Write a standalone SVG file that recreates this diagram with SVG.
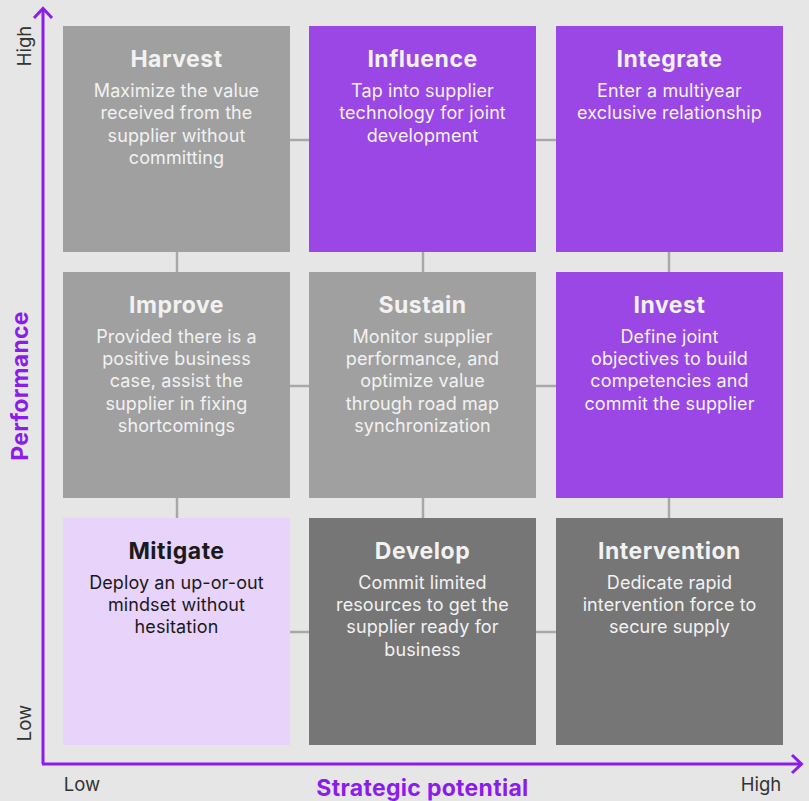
<svg xmlns="http://www.w3.org/2000/svg" width="809" height="801" viewBox="0 0 809 801">
  <style>
    .bg { fill: #e6e6e6; }
    .c-gray { fill: #a0a0a0; }
    .c-dark { fill: #767676; }
    .c-purple { fill: #9a47e6; }
    .c-lilac { fill: #e8d3fb; }
    .title { font-family: Inter, "Open Sans", "Liberation Sans", sans-serif; font-weight: 700; font-size: 23px; letter-spacing: 0.5px; text-anchor: middle; }
    .body { font-family: Inter, "Open Sans", "Liberation Sans", sans-serif; font-size: 18px; letter-spacing: 0.1px; text-anchor: middle; }
    .light { fill: #f2f2f2; }
    .darktxt { fill: #1a1a1a; }
    .link { stroke: #a8a8a8; stroke-width: 2.5; fill: none; }
    .axis { stroke: #8c1cec; stroke-width: 3; fill: none; }
    .tick { font-family: Inter, "Open Sans", "Liberation Sans", sans-serif; font-size: 18.5px; fill: #333333; }
    .axlabel { font-family: Inter, "Open Sans", "Liberation Sans", sans-serif; font-weight: 700; font-size: 23px; letter-spacing: 0.3px; fill: #8c1cec; text-anchor: middle; }
  </style>

  <rect class="bg" x="0" y="0" width="809" height="801"/>

  <!-- connectors between neighbouring cells -->
  <g id="connectors">
    <line class="link" x1="290" y1="140" x2="309" y2="140"/>
    <line class="link" x1="536" y1="140" x2="556" y2="140"/>
    <line class="link" x1="290" y1="386" x2="309" y2="386"/>
    <line class="link" x1="536" y1="386" x2="556" y2="386"/>
    <line class="link" x1="290" y1="632" x2="309" y2="632"/>
    <line class="link" x1="536" y1="632" x2="556" y2="632"/>
    <line class="link" x1="177" y1="252" x2="177" y2="272"/>
    <line class="link" x1="423" y1="252" x2="423" y2="272"/>
    <line class="link" x1="669" y1="252" x2="669" y2="272"/>
    <line class="link" x1="177" y1="498" x2="177" y2="518"/>
    <line class="link" x1="423" y1="498" x2="423" y2="518"/>
    <line class="link" x1="669" y1="498" x2="669" y2="518"/>
  </g>

  <!-- top row -->
  <g id="harvest">
    <rect class="c-gray" x="63" y="26" width="227" height="226"/>
    <text class="title light" x="176.5" y="67">Harvest</text>
    <text class="body light" x="176.5" y="97">Maximize the value</text>
    <text class="body light" x="176.5" y="119">received from the</text>
    <text class="body light" x="176.5" y="142">supplier without</text>
    <text class="body light" x="176.5" y="164">committing</text>
  </g>
  <g id="influence">
    <rect class="c-purple" x="309" y="26" width="227" height="226"/>
    <text class="title light" x="422.5" y="67">Influence</text>
    <text class="body light" x="422.5" y="97">Tap into supplier</text>
    <text class="body light" x="422.5" y="119">technology for joint</text>
    <text class="body light" x="422.5" y="142">development</text>
  </g>
  <g id="integrate">
    <rect class="c-purple" x="556" y="26" width="227" height="226"/>
    <text class="title light" x="669.5" y="67">Integrate</text>
    <text class="body light" x="669.5" y="97">Enter a multiyear</text>
    <text class="body light" x="669.5" y="119">exclusive relationship</text>
  </g>

  <!-- middle row -->
  <g id="improve">
    <rect class="c-gray" x="63" y="272" width="227" height="226"/>
    <text class="title light" x="176.5" y="313">Improve</text>
    <text class="body light" x="176.5" y="343">Provided there is a</text>
    <text class="body light" x="176.5" y="365">positive business</text>
    <text class="body light" x="176.5" y="387">case, assist the</text>
    <text class="body light" x="176.5" y="410">supplier in fixing</text>
    <text class="body light" x="176.5" y="432">shortcomings</text>
  </g>
  <g id="sustain">
    <rect class="c-gray" x="309" y="272" width="227" height="226"/>
    <text class="title light" x="422.5" y="313">Sustain</text>
    <text class="body light" x="422.5" y="343">Monitor supplier</text>
    <text class="body light" x="422.5" y="365">performance, and</text>
    <text class="body light" x="422.5" y="387">optimize value</text>
    <text class="body light" x="422.5" y="410">through road map</text>
    <text class="body light" x="422.5" y="432">synchronization</text>
  </g>
  <g id="invest">
    <rect class="c-purple" x="556" y="272" width="227" height="226"/>
    <text class="title light" x="669.5" y="313">Invest</text>
    <text class="body light" x="669.5" y="343">Define joint</text>
    <text class="body light" x="669.5" y="365">objectives to build</text>
    <text class="body light" x="669.5" y="387">competencies and</text>
    <text class="body light" x="669.5" y="410">commit the supplier</text>
  </g>

  <!-- bottom row -->
  <g id="mitigate">
    <rect class="c-lilac" x="63" y="518" width="227" height="227"/>
    <text class="title darktxt" x="176.5" y="559">Mitigate</text>
    <text class="body darktxt" x="176.5" y="589">Deploy an up-or-out</text>
    <text class="body darktxt" x="176.5" y="611">mindset without</text>
    <text class="body darktxt" x="176.5" y="633">hesitation</text>
  </g>
  <g id="develop">
    <rect class="c-dark" x="309" y="518" width="227" height="227"/>
    <text class="title light" x="422.5" y="559">Develop</text>
    <text class="body light" x="422.5" y="589">Commit limited</text>
    <text class="body light" x="422.5" y="611">resources to get the</text>
    <text class="body light" x="422.5" y="633">supplier ready for</text>
    <text class="body light" x="422.5" y="656">business</text>
  </g>
  <g id="intervention">
    <rect class="c-dark" x="556" y="518" width="227" height="227"/>
    <text class="title light" x="669.5" y="559">Intervention</text>
    <text class="body light" x="669.5" y="589">Dedicate rapid</text>
    <text class="body light" x="669.5" y="611">intervention force to</text>
    <text class="body light" x="669.5" y="633">secure supply</text>
  </g>

  <!-- axes -->
  <g id="axes">
    <polyline class="axis" points="43,764 43,9"/>
    <polyline class="axis" points="34,18 43,8.5 52,18"/>
    <polyline class="axis" points="42,764 801,764"/>
    <polyline class="axis" points="792,755 801.5,764 792,773"/>
    <text class="tick" transform="translate(31,46) rotate(-90)" text-anchor="middle">High</text>
    <text class="tick" transform="translate(31,723) rotate(-90)" text-anchor="middle">Low</text>
    <text class="tick" x="82" y="791" text-anchor="middle">Low</text>
    <text class="tick" x="761" y="791" text-anchor="middle">High</text>
    <text class="axlabel" transform="translate(28,386) rotate(-90)">Performance</text>
    <text class="axlabel" x="422.5" y="796">Strategic potential</text>
  </g>
</svg>
